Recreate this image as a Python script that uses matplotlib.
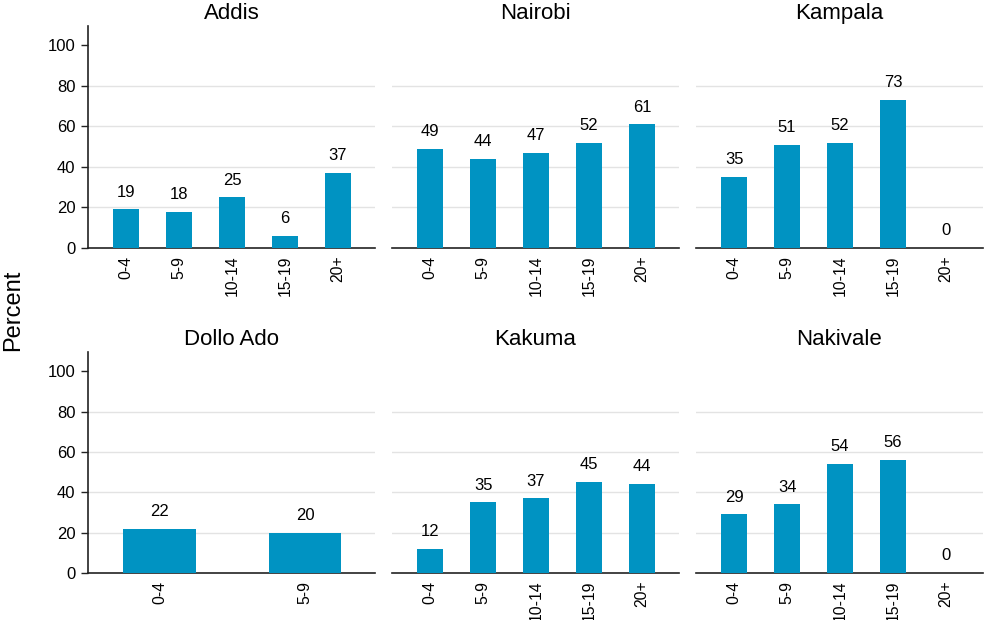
import matplotlib
matplotlib.use("Agg")
import matplotlib.pyplot as plt

plt.rcParams['font.family'] = ['Liberation Sans', 'DejaVu Sans']

cities = ["Addis", "Nairobi", "Kampala", "Dollo Ado", "Kakuma", "Nakivale"]
groups5 = ["0-4", "5-9", "10-14", "15-19", "20+"]
groups2 = ["0-4", "5-9"]
addis = [19, 18, 25, 6, 37]
nairobi = [49, 44, 47, 52, 61]
kampala = [35, 51, 52, 73, 0]
dollo_ado = [22, 20]
kakuma = [12, 35, 37, 45, 44]
nakivale = [29, 34, 54, 56, 0]

series = [addis, nairobi, kampala, dollo_ado, kakuma, nakivale]
cats = [groups5, groups5, groups5, groups2, groups5, groups5]

W, H = 985, 620
fig = plt.figure(figsize=(W / 100, H / 100), dpi=100)
lefts = [88, 392, 696]
aw = 287
rows = [(248, 26), (573, 352)]
color = "#0093c2"

for i, (city, vals, cl) in enumerate(zip(cities, series, cats)):
    r, c = divmod(i, 3)
    bot, top = rows[r]
    ax = fig.add_axes([lefts[c] / W, 1 - bot / H, aw / W, (bot - top) / H])
    x = list(range(len(vals)))
    ax.bar(x, vals, width=0.5, color=color, zorder=3)
    for xi, v in zip(x, vals):
        ax.annotate(f"{v}", (xi, v), xytext=(0, 7), textcoords="offset points",
                    ha="center", va="bottom", fontsize=12)
    if len(vals) == 5:
        ax.set_xlim(-0.72, 4.70)
    else:
        ax.set_xlim(-0.49, 1.48)
    ax.set_ylim(0, 109.5)
    ax.set_xticks(x)
    ax.set_xticklabels(cl, rotation=90, fontsize=11.3)
    ax.tick_params(axis="x", length=0, pad=5.5)
    ax.set_yticks([0, 20, 40, 60, 80, 100])
    for g in [20, 40, 60, 80]:
        ax.axhline(g, color="#e3e3e3", lw=1, zorder=1)
    for s in ["top", "right"]:
        ax.spines[s].set_visible(False)
    ax.spines["bottom"].set_color("#222222")
    ax.spines["bottom"].set_linewidth(1.2)
    if c == 0:
        ax.spines["left"].set_color("#222222")
        ax.spines["left"].set_linewidth(1.2)
        ax.tick_params(axis="y", labelsize=12, length=5, width=1, color="#222222", pad=4)
    else:
        ax.spines["left"].set_visible(False)
        ax.tick_params(axis="y", left=False, labelleft=False)
    ax.set_title(city, fontsize=16, pad=5)

fig.text(13 / W, 1 - 310 / H, "Percent", rotation=90, ha="center", va="center", fontsize=17)

fig.savefig("out.png", dpi=100)
